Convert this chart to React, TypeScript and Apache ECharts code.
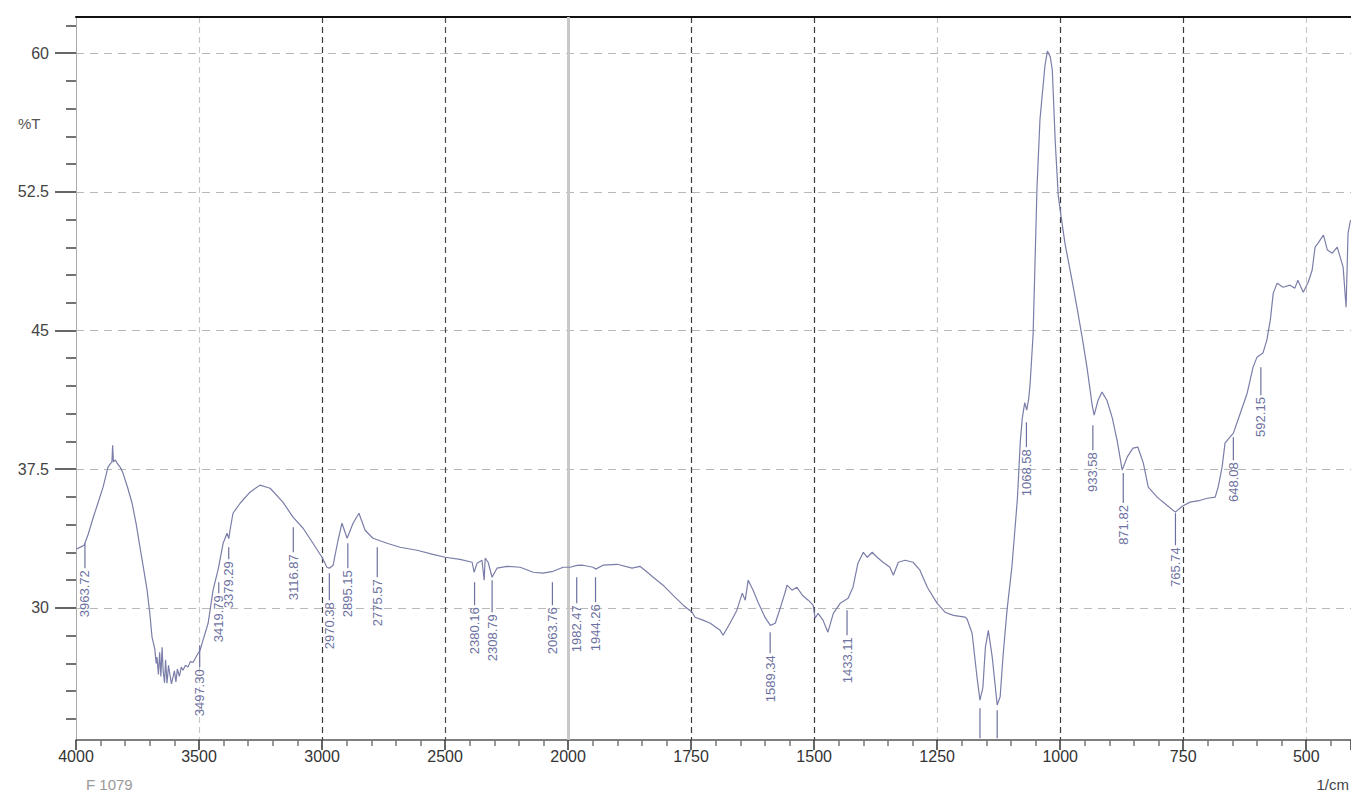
import React, { useEffect, useRef } from "react";
import * as echarts from "echarts";

// ---- data (wavenumber 1/cm, %T) ----
const spectrum: [number, number][] = [
  [4000, 33.17], [3980, 33.3], [3967, 33.39], [3950, 34.0], [3931, 34.85], [3910, 35.7], [3890, 36.53],
  [3870, 37.61], [3860, 37.8], [3854, 37.88], [3851, 38.8], [3848, 37.9], [3840, 38.0], [3833, 37.83],
  [3820, 37.6], [3809, 37.29], [3790, 36.5], [3772, 35.66], [3755, 34.5], [3740, 33.28], [3725, 32.1],
  [3711, 30.96], [3700, 29.7], [3691, 28.42], [3680, 27.8], [3674, 27.0], [3671, 27.34], [3665, 26.4],
  [3660, 27.6], [3655, 26.3], [3650, 27.87], [3646, 26.63], [3640, 25.95], [3636, 27.2], [3630, 25.93],
  [3624, 26.9], [3618, 26.36], [3612, 25.9], [3606, 26.25], [3600, 26.6], [3594, 26.0], [3588, 26.7],
  [3580, 26.3], [3572, 26.8], [3565, 26.63], [3555, 26.9], [3545, 26.8], [3535, 27.1], [3524, 27.06],
  [3510, 27.4], [3496, 27.71], [3484, 28.25], [3463, 29.17], [3443, 30.96], [3423, 32.04], [3419, 32.3],
  [3402, 33.5], [3386, 34.04], [3379, 33.75], [3374, 34.2], [3362, 35.12], [3333, 35.66], [3293, 36.26],
  [3252, 36.64], [3211, 36.47], [3159, 35.72], [3118, 34.91], [3077, 34.31], [3037, 33.5], [3000, 32.74],
  [2980, 32.2], [2970, 32.15], [2955, 32.31], [2935, 33.66], [2919, 34.58], [2898, 33.77], [2874, 34.58],
  [2850, 35.12], [2825, 34.2], [2793, 33.77], [2736, 33.5], [2683, 33.28], [2614, 33.12], [2549, 32.9],
  [2500, 32.74], [2439, 32.63], [2390, 32.47], [2382, 31.93], [2370, 32.42], [2350, 32.58], [2341, 31.5],
  [2337, 32.69], [2325, 32.47], [2309, 31.66], [2289, 32.15], [2248, 32.25], [2195, 32.2], [2142, 31.93],
  [2102, 31.88], [2061, 31.98], [2020, 32.2], [1996, 32.2], [1982, 32.3], [1970, 32.31], [1949, 32.2],
  [1944, 32.1], [1929, 32.31], [1900, 32.36], [1870, 32.15], [1854, 32.25], [1839, 31.93], [1827, 31.66],
  [1807, 31.23], [1787, 30.69], [1766, 30.15], [1748, 29.77], [1742, 29.5], [1726, 29.34], [1711, 29.17],
  [1691, 28.79], [1685, 28.52], [1671, 29.17], [1657, 29.88], [1646, 30.8], [1640, 30.42], [1634, 31.5],
  [1624, 30.96], [1614, 30.31], [1600, 29.5], [1589, 29.06], [1579, 29.17], [1569, 29.98], [1559, 30.85],
  [1555, 31.23], [1545, 30.96], [1535, 31.12], [1524, 30.69], [1512, 30.42], [1502, 30.15], [1498, 29.44],
  [1492, 29.71], [1482, 29.34], [1472, 28.69], [1461, 29.71], [1447, 30.25], [1431, 30.52], [1421, 31.12],
  [1411, 32.42], [1400, 33.01], [1392, 32.74], [1382, 33.01], [1372, 32.74], [1360, 32.47], [1346, 32.2],
  [1339, 31.77], [1329, 32.47], [1315, 32.58], [1299, 32.47], [1285, 32.04], [1270, 31.12], [1250, 30.25],
  [1234, 29.77], [1217, 29.6], [1193, 29.5], [1189, 29.39], [1179, 28.63], [1169, 26.25], [1163, 25.01],
  [1157, 25.71], [1152, 27.87], [1146, 28.79], [1138, 27.33], [1128, 24.75], [1122, 25.2], [1116, 27.44],
  [1108, 29.88], [1098, 32.25], [1087, 35.88], [1081, 39.02], [1077, 40.26], [1072, 41.1], [1068, 40.7],
  [1064, 41.3], [1061, 42.15], [1055, 44.8], [1047, 52.81], [1041, 56.43], [1031, 59.3], [1026, 60.11],
  [1020, 59.78], [1016, 59.08], [1010, 55.19], [1004, 52.32], [998, 51.13], [990, 49.67], [976, 47.72],
  [966, 46.26], [955, 44.59], [945, 42.91], [935, 40.96], [931, 40.42], [923, 41.23], [915, 41.67],
  [905, 41.23], [894, 40.26], [884, 39.02], [874, 37.45], [864, 38.15], [852, 38.64], [842, 38.69],
  [831, 37.83], [821, 36.53], [803, 35.99], [783, 35.55], [766, 35.18], [752, 35.5], [736, 35.72],
  [715, 35.82], [701, 35.93], [685, 35.99], [679, 36.53], [671, 37.61], [665, 38.91], [655, 39.23],
  [648, 39.45], [634, 40.53], [620, 41.61], [608, 43.02], [600, 43.56], [594, 43.67], [588, 43.78],
  [580, 44.48], [573, 45.56], [567, 47.02], [559, 47.56], [547, 47.34], [533, 47.45], [523, 47.29],
  [517, 47.72], [506, 47.07], [496, 47.61], [488, 48.26], [482, 49.51], [476, 49.72], [465, 50.16],
  [457, 49.35], [447, 49.18], [437, 49.51], [431, 48.97], [425, 48.43], [419, 46.26], [415, 50.27],
  [410, 50.97],
];

const peakWn = [3963.72, 3497.3, 3419.79, 3379.29, 3116.87, 2970.38, 2895.15, 2775.57, 2380.16, 2308.79,
  2063.76, 1982.47, 1944.26, 1589.34, 1433.11, 1068.58, 933.58, 871.82, 765.74, 648.08, 592.15, 1163, 1128];
const peakTop = [33.5, 27.98, 31.39, 33.28, 34.36, 31.88, 33.5, 33.28, 31.39, 31.5,
  31.39, 31.66, 31.66, 28.69, 29.88, 40.04, 39.88, 37.29, 35.12, 39.23, 43.02, 24.58, 24.47];
const peakText = ["3963.72", "3497.30", "3419.79", "3379.29", "3116.87", "2970.38", "2895.15", "2775.57",
  "2380.16", "2308.79", "2063.76", "1982.47", "1944.26", "1589.34", "1433.11", "1068.58", "933.58",
  "871.82", "765.74", "648.08", "592.15", "", ""];

const yMajor = [30, 37.5, 45, 52.5, 60];
const yMinor = [24, 25.5, 27, 28.5, 31.5, 33, 34.5, 36, 39, 40.5, 42, 43.5, 46.5, 48, 49.5, 51, 54, 55.5, 57, 58.5, 61.5];

// ---- layout / style ----
const peakLineLen = [25, 22, 11, 12, 25, 27, 25, 30, 23, 32, 23, 26, 25, 21, 25, 25, 25, 30, 32, 23, 28, 30, 28];
const xGridColors = ["rgba(0,0,0,0)", "#c8c8c8", "#3a3a3a", "#4a4a4a", "rgba(0,0,0,0)", "#3a3a3a", "#3a3a3a",
  "#c8c8c8", "#3a3a3a", "#3a3a3a", "#c8c8c8", "rgba(0,0,0,0)"];
const FONT = "'Liberation Sans', Arial, sans-serif";
const LINE_COLOR = "#7a7ea8";
const LABEL_COLOR = "#6d71a0";

// split wavenumber axis: 4000-2000 compressed 2x relative to 2000-400
function toU(w: number) {
  return w >= 2000 ? (4000 - w) / 2 : 3000 - w;
}
function toWn(u: number) {
  return u <= 1000 ? 4000 - 2 * u : 3000 - u;
}

const X_MAX = toU(409);
const Y_MIN = 22.86;
const Y_MAX = 61.95;

export default function App() {
  const ref = useRef<HTMLDivElement>(null);
  useEffect(() => {
    if (!ref.current) return;
    const chart = echarts.init(ref.current, null, { renderer: "svg" });
    const option: any = {
      animation: false,
      backgroundColor: "#ffffff",
      textStyle: { fontFamily: FONT },
      grid: { left: 76, right: 0, top: 17, bottom: 53, containLabel: false, outerBoundsMode: "none" },
      xAxis: [
        {
          type: "value",
          position: "bottom",
          min: 0,
          max: X_MAX,
          interval: 250,
          axisLine: { show: true, onZero: false, lineStyle: { color: "#555", width: 1.5 } },
          axisTick: { show: true, length: 10, lineStyle: { color: "#333", width: 1.5 } },
          minorTick: { show: true, splitNumber: 5, length: 6, lineStyle: { color: "#777", width: 1.5 } },
          axisLabel: {
            showMaxLabel: false,
            showMinLabel: true,
            margin: 8,
            fontSize: 16,
            color: "#333",
            fontFamily: FONT,
            formatter: (v: number) => String(toWn(v)),
          },
          splitLine: { show: true, lineStyle: { type: [6, 4], color: xGridColors, width: 1.2 } },
        },
        {
          type: "value",
          position: "top",
          min: 0,
          max: X_MAX,
          axisLine: { show: true, onZero: false, lineStyle: { color: "#111", width: 2 } },
          axisTick: { show: false },
          axisLabel: { show: false },
          splitLine: { show: false },
        },
      ],
      yAxis: [
        {
          type: "value",
          position: "left",
          offset: 0,
          min: Y_MIN,
          max: Y_MAX,
          axisLine: { show: true, onZero: false, lineStyle: { color: "#aaa", width: 1 } },
          axisTick: { show: true, customValues: yMajor, length: 21, lineStyle: { color: "#333", width: 1.5 } },
          axisLabel: {
            customValues: yMajor,
            margin: 27,
            fontSize: 16,
            color: "#444",
            fontFamily: FONT,
            formatter: (v: number) => String(v),
          },
          splitLine: { show: true, lineStyle: { type: [8, 6], color: "#b8b8b8", width: 1.2 } },
        },
        {
          type: "value",
          position: "left",
          offset: 0,
          min: Y_MIN,
          max: Y_MAX,
          axisLine: { show: false },
          axisTick: { show: true, customValues: yMinor, length: 10, lineStyle: { color: "#444", width: 1.5 } },
          axisLabel: { show: false },
          splitLine: { show: false },
        },
      ],
      graphic: [
        { type: "text", left: 18, top: 116, style: { text: "%T", fontSize: 15, fill: "#555", fontFamily: FONT } },
        { type: "text", left: 86, top: 777, style: { text: "F 1079", fontSize: 15, fill: "#999", fontFamily: FONT } },
        { type: "text", right: 2, top: 777, style: { text: "1/cm", fontSize: 15, fill: "#444", fontFamily: FONT } },
      ],
      series: [
        {
          type: "line",
          xAxisIndex: 0,
          yAxisIndex: 0,
          data: spectrum.map(([w, t]) => [toU(w), t]),
          symbol: "none",
          lineStyle: { color: LINE_COLOR, width: 1.2 },
          z: 3,
          markLine: {
            silent: true,
            symbol: ["none", "none"],
            label: { show: false },
            lineStyle: { type: "solid", color: "#c8c8c8", width: 3 },
            data: [{ xAxis: toU(2000) }],
            z: 1,
          },
        },
        {
          type: "custom",
          xAxisIndex: 0,
          yAxisIndex: 0,
          clip: false,
          z: 4,
          data: peakWn.map((w, i) => [toU(w), peakTop[i]]),
          renderItem: (params: any, api: any) => {
            const i = params.dataIndex;
            const p = api.coord([api.value(0), api.value(1)]);
            const len = peakLineLen[i];
            const children: any[] = [
              {
                type: "line",
                shape: { x1: p[0], y1: p[1], x2: p[0], y2: p[1] + len },
                style: { stroke: LABEL_COLOR, lineWidth: 1.2 },
              },
            ];
            if (peakText[i]) {
              children.push({
                type: "text",
                x: p[0],
                y: p[1] + len + 2,
                rotation: Math.PI / 2,
                style: {
                  text: peakText[i],
                  fill: LABEL_COLOR,
                  fontSize: 13,
                  fontFamily: FONT,
                  align: "right",
                  verticalAlign: "middle",
                },
              });
            }
            return { type: "group", children };
          },
        },
      ],
    };
    chart.setOption(option);
    return () => chart.dispose();
  }, []);
  return (
    <div
      ref={ref}
      style={{ position: "fixed", left: 0, top: 0, width: 1351, height: 793, background: "#fff" }}
    />
  );
}
